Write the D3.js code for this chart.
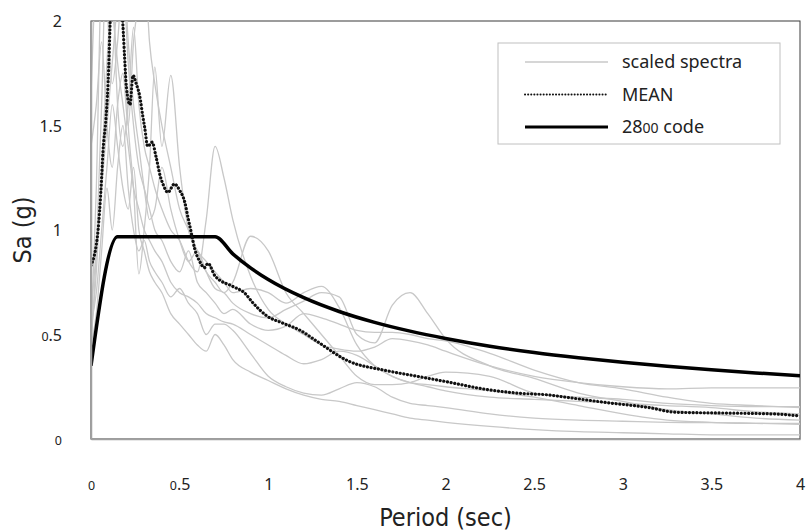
<!DOCTYPE html>
<html>
<head>
<meta charset="utf-8">
<script src="https://cdn.jsdelivr.net/npm/d3@7"></script>
<style>
  body { margin: 0; background: #fff; }
  svg text { fill: #222; }
</style>
</head>
<body>
<div id="chart"></div>
<script>
// periods (sec) shared by all scaled spectra
var periods = [0, 0.03, 0.06, 0.09, 0.12, 0.15, 0.18, 0.21, 0.24, 0.27,
  0.3, 0.33, 0.36, 0.4, 0.45, 0.5, 0.55, 0.6, 0.65, 0.7,
  0.75, 0.8, 0.9, 1.0, 1.1, 1.2, 1.3, 1.4, 1.5, 1.6,
  1.7, 1.8, 1.9, 2.0, 2.25, 2.5, 2.75, 3.0, 3.25, 3.5,
  3.75, 4.0];

var spectrum1 = [1.64, 2.3, 2.6, 2.1, 1.7, 1.9, 2.2, 1.8, 1.5, 1.3,
  1.2, 1.1, 1.0, 0.95, 0.85, 0.8, 0.9, 0.75, 0.7, 0.65,
  0.6, 0.62, 0.55, 0.52, 0.54, 0.6, 0.58, 0.55, 0.52, 0.51,
  0.51, 0.5, 0.48, 0.47, 0.41, 0.33, 0.27, 0.24, 0.2, 0.17,
  0.16, 0.15];
var spectrum2 = [1.40, 1.6, 1.9, 1.5, 1.3, 1.6, 1.75, 1.5, 1.9, 2.1,
  2.3, 1.9, 1.7, 1.5, 1.3, 1.1, 1.0, 0.9, 0.85, 0.8,
  0.75, 0.7, 0.72, 0.7, 0.65, 0.7, 0.73, 0.63, 0.45, 0.35,
  0.3, 0.27, 0.26, 0.25, 0.23, 0.2, 0.16, 0.12, 0.09, 0.08,
  0.075, 0.07];
var spectrum3 = [0.44, 0.9, 1.6, 2.4, 2.2, 1.6, 1.4, 1.6, 1.97, 1.6,
  1.4, 1.3, 1.2, 1.1, 1.0, 0.95, 0.85, 0.8, 1.05, 1.40,
  1.25, 1.05, 0.78, 0.62, 0.55, 0.5, 0.45, 0.43, 0.42, 0.44,
  0.48, 0.47, 0.45, 0.42, 0.35, 0.3, 0.27, 0.25, 0.24, 0.245,
  0.245, 0.245];
var spectrum4 = [0.5, 0.8, 1.3, 1.8, 2.2, 2.4, 2.0, 1.5, 1.2, 0.79,
  1.0, 1.3, 1.78, 1.4, 1.74, 1.3, 1.0, 0.9, 0.8, 0.75,
  0.7, 0.75, 0.97, 0.9, 0.7, 0.6, 0.5, 0.4, 0.3, 0.26,
  0.26, 0.27, 0.3, 0.32, 0.3, 0.22, 0.2, 0.19, 0.17, 0.16,
  0.155, 0.155];
var spectrum5 = [0.6, 0.9, 1.2, 1.5, 1.8, 2.1, 2.3, 1.9, 1.6, 1.4,
  1.2, 1.05, 1.1, 1.3, 1.1, 0.95, 0.85, 0.9, 0.8, 0.72,
  0.7, 0.65, 0.6, 0.58, 0.62, 0.66, 0.7, 0.68, 0.5, 0.46,
  0.64, 0.7, 0.6, 0.48, 0.35, 0.29, 0.22, 0.18, 0.14, 0.12,
  0.1, 0.09];
var spectrum6 = [0.45, 0.6, 0.9, 1.2, 1.0, 1.3, 1.5, 1.2, 1.0, 0.9,
  0.95, 0.85, 0.8, 0.75, 0.68, 0.72, 0.65, 0.6, 0.5, 0.55,
  0.55, 0.52, 0.41, 0.3, 0.25, 0.22, 0.21, 0.24, 0.27, 0.25,
  0.2, 0.17, 0.16, 0.15, 0.12, 0.1, 0.09, 0.085, 0.08, 0.078,
  0.075, 0.075];
var spectrum7 = [0.55, 0.7, 1.0, 1.3, 1.6, 1.4, 1.2, 1.1, 1.3, 1.0,
  0.9, 0.8, 0.75, 0.7, 0.6, 0.55, 0.5, 0.45, 0.42, 0.5,
  0.45, 0.38, 0.32, 0.28, 0.24, 0.21, 0.19, 0.18, 0.16, 0.14,
  0.12, 0.1, 0.09, 0.08, 0.06, 0.045, 0.035, 0.03, 0.025, 0.02,
  0.02, 0.02];
var spectrum8 = [0.48, 1.2, 2.3, 2.6, 2.1, 1.8, 1.6, 1.4, 1.2, 1.1,
  1.0, 0.95, 0.9, 0.85, 0.75, 0.7, 0.68, 0.65, 0.6, 0.58,
  0.56, 0.55, 0.5, 0.45, 0.4, 0.36, 0.38, 0.42, 0.4, 0.35,
  0.3, 0.27, 0.25, 0.23, 0.2, 0.19, 0.18, 0.17, 0.16, 0.15,
  0.13, 0.12];
var spectra = [spectrum1, spectrum2, spectrum3, spectrum4, spectrum5, spectrum6, spectrum7, spectrum8];

// mean of scaled spectra
var meanT = [0, 0.04, 0.056, 0.068, 0.085, 0.1, 0.107, 0.12, 0.15, 0.17,
  0.18, 0.19, 0.2, 0.22, 0.237, 0.255, 0.275, 0.293, 0.303, 0.32,
  0.345, 0.367, 0.39, 0.406, 0.434, 0.47, 0.5, 0.53, 0.547, 0.565,
  0.585, 0.613, 0.64, 0.66, 0.7, 0.8, 0.865, 0.915, 0.99, 1.08,
  1.18, 1.27, 1.46, 1.65, 1.84, 2.03, 2.21, 2.4, 2.59, 2.68,
  2.9, 3.15, 3.3, 3.6, 3.85, 4.0];
var meanSa = [0.83, 1.0, 1.19, 1.38, 1.54, 1.78, 1.97, 2.3, 2.4, 2.1,
  1.98, 1.82, 1.68, 1.60, 1.74, 1.70, 1.64, 1.54, 1.49, 1.40,
  1.42, 1.35, 1.26, 1.22, 1.18, 1.22, 1.19, 1.13, 1.06, 0.99,
  0.91, 0.85, 0.82, 0.84, 0.78, 0.73, 0.70, 0.65, 0.59, 0.555,
  0.52, 0.47, 0.37, 0.33, 0.30, 0.27, 0.24, 0.22, 0.21, 0.20,
  0.175, 0.15, 0.128, 0.124, 0.12, 0.11];

// 2800 code design spectrum
var codeT = [0, 0.15, 0.7, 0.8, 0.9, 1.0, 1.2, 1.4, 1.6, 1.8,
  2.0, 2.25, 2.5, 2.75, 3.0, 3.25, 3.5, 3.75, 4.0];
var codeSa = [0.35, 0.968, 0.968, 0.886, 0.819, 0.763, 0.676, 0.61, 0.558, 0.516,
  0.481, 0.444, 0.414, 0.389, 0.367, 0.348, 0.331, 0.316, 0.303];

var xTicks = [0, 0.5, 1, 1.5, 2, 2.5, 3, 3.5, 4];
var yTicks = [0, 0.5, 1, 1.5, 2];
var legendNames = ["scaled spectra", "MEAN", "2800 code"];

var width = 809, height = 531;
var margin = {top: 21, right: 9, bottom: 92, left: 91};
var w = width - margin.left - margin.right,
    h = height - margin.top - margin.bottom;

var labelFont = "'Noto Sans', sans-serif";
var titleFont = "'Liberation Sans Narrow', 'DejaVu Sans Condensed', sans-serif";

// the source font draws zero as a small round "o"; mimic with a smaller 0
function smallZeros(sel) {
  sel.each(function() {
    var t = d3.select(this), s = t.text();
    t.text(null);
    s.match(/0+|[^0]+/g).forEach(function(part) {
      t.append("tspan")
        .style("font-size", part[0] === "0" ? "0.78em" : null)
        .text(part);
    });
  });
}

var svg = d3.select("#chart").append("svg")
    .attr("width", width)
    .attr("height", height);

var x = d3.scaleLinear().domain([0, 4]).range([0, w]);
var y = d3.scaleLinear().domain([0, 2]).range([h, 0]);

svg.append("clipPath").attr("id", "clip")
  .append("rect").attr("width", w).attr("height", h);

var g = svg.append("g")
    .attr("transform", "translate(" + margin.left + "," + margin.top + ")");

// plot area frame
g.append("rect")
  .attr("width", w).attr("height", h)
  .style("fill", "none")
  .style("stroke", "#3a3a3a")
  .style("stroke-width", 1);

var plot = g.append("g").attr("clip-path", "url(#clip)");

var line = d3.line()
  .x(function(d) { return x(d[0]); })
  .y(function(d) { return y(d[1]); })
  .curve(d3.curveMonotoneX);

spectra.forEach(function(s) {
  plot.append("path")
    .datum(periods.map(function(t, i) { return [t, s[i]]; }))
    .attr("d", line)
    .style("fill", "none")
    .style("stroke", "#c8c8c8")
    .style("stroke-width", 1.3);
});

plot.append("path")
  .datum(codeT.map(function(t, i) { return [t, codeSa[i]]; }))
  .attr("d", line)
  .style("fill", "none")
  .style("stroke", "#000")
  .style("stroke-width", 3.5);

plot.append("path")
  .datum(meanT.map(function(t, i) { return [t, meanSa[i]]; }))
  .attr("d", line)
  .style("fill", "none")
  .style("stroke", "#111")
  .style("stroke-width", 3.2)
  .style("stroke-linecap", "round")
  .style("stroke-dasharray", "0.1 3.6");

// axes (no tick marks, gray axis lines)
var xAxis = g.append("g")
  .attr("transform", "translate(0," + h + ")")
  .call(d3.axisBottom(x).tickValues(xTicks).tickSize(0).tickPadding(40)
    .tickFormat(function(d) { return String(d); }));
var yAxis = g.append("g")
  .call(d3.axisLeft(y).tickValues(yTicks).tickSize(0).tickPadding(29)
    .tickFormat(function(d) { return String(d); }));
[xAxis, yAxis].forEach(function(a) {
  a.attr("font-size", null).attr("font-family", null);
  a.select(".domain").style("stroke", "#a0a0a0").style("stroke-width", 1.5);
  a.selectAll(".tick text")
    .style("fill", "#222")
    .style("font-family", labelFont)
    .style("font-size", "16px")
    .call(smallZeros);
});
yAxis.selectAll(".tick text").attr("dy", "0.35em");

// axis titles
svg.append("text")
  .attr("x", margin.left + w / 2)
  .attr("y", 526)
  .attr("text-anchor", "middle")
  .style("font-family", titleFont)
  .style("font-size", "25px")
  .text("Period (sec)");

svg.append("text")
  .attr("text-anchor", "middle")
  .attr("transform", "translate(31," + (margin.top + h / 2) + ")rotate(-90)")
  .style("font-family", titleFont)
  .style("font-size", "25px")
  .text("Sa (g)");

// legend
var lg = svg.append("g").attr("transform", "translate(498,43)");
lg.append("rect")
  .attr("width", 282).attr("height", 101)
  .style("fill", "#fff")
  .style("stroke", "#c0c0c0");

var legendStyles = [
  {stroke: "#c8c8c8", width: 1.3, dash: null, cap: "butt"},
  {stroke: "#111", width: 2, dash: "0.1 3", cap: "round"},
  {stroke: "#000", width: 3, dash: null, cap: "butt"}
];
var legendY = d3.scalePoint().domain(legendNames).range([19, 84]);

legendNames.forEach(function(name, i) {
  var st = legendStyles[i];
  lg.append("line")
    .attr("x1", 27).attr("x2", 110)
    .attr("y1", legendY(name)).attr("y2", legendY(name))
    .style("stroke", st.stroke)
    .style("stroke-width", st.width)
    .style("stroke-linecap", st.cap)
    .style("stroke-dasharray", st.dash);
  lg.append("text")
    .attr("x", 124).attr("y", legendY(name))
    .attr("dy", "0.35em")
    .style("font-family", labelFont)
    .style("font-size", "18px")
    .text(name)
    .call(smallZeros);
});
</script>
</body>
</html>
